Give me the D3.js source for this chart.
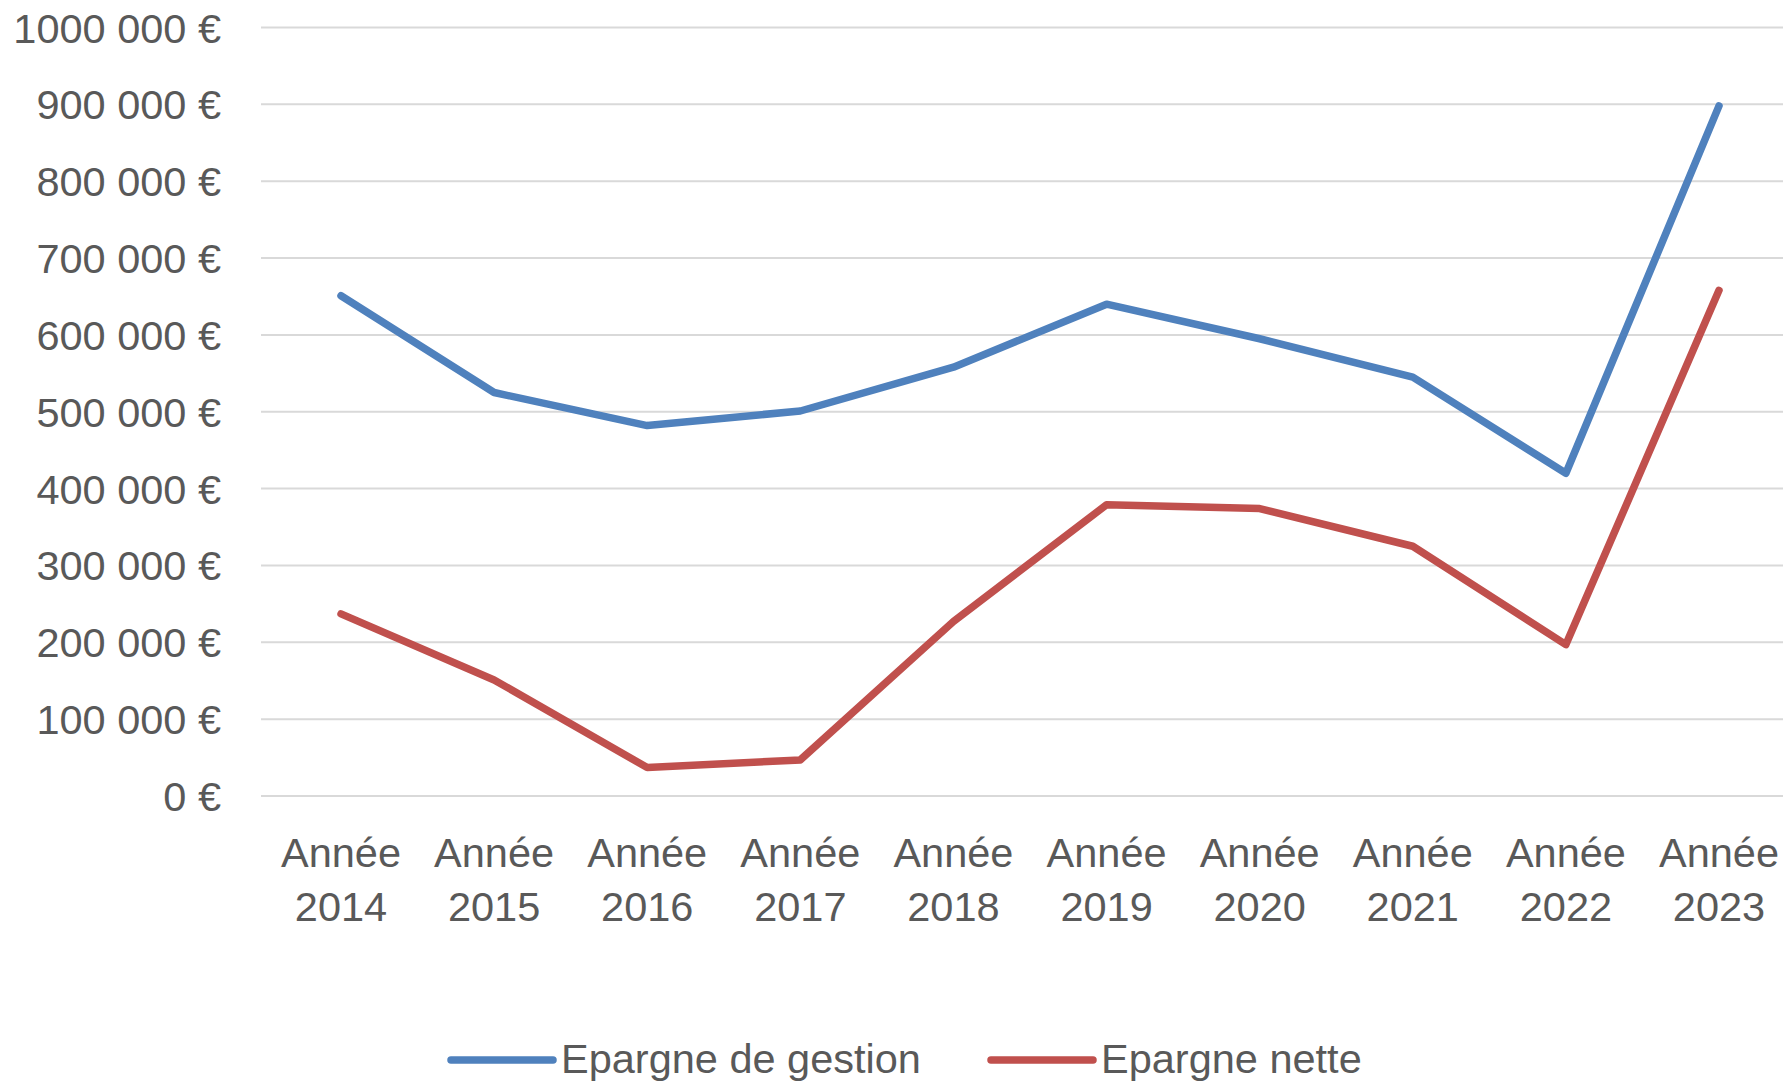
<!DOCTYPE html>
<html><head><meta charset="utf-8">
<script src="https://cdn.jsdelivr.net/npm/d3@7"></script>
<style>
html,body{margin:0;padding:0;background:#fff;}
svg{display:block;}
text{font-family:"Liberation Sans",Arial,sans-serif;fill:#595959;}
</style></head>
<body>
<svg id="chart" width="1783" height="1084"></svg>
<script>
const categories = ["2014","2015","2016","2017","2018","2019","2020","2021","2022","2023"];
const categoryPrefix = "Année";
const epargneGestion = [651000,525000,482000,501000,558000,640000,595000,545000,420000,898000];
const epargneNette   = [237000,151000,37000,47000,227000,379000,374000,325000,197000,658000];
const seriesNames = ["Epargne de gestion","Epargne nette"];
const seriesColors = ["#4F81BD","#C0504D"];
const yTicks = [0,100000,200000,300000,400000,500000,600000,700000,800000,900000,1000000];
const yTickLabels = ["0 €","100 000 €","200 000 €","300 000 €","400 000 €","500 000 €","600 000 €","700 000 €","800 000 €","900 000 €","1000 000 €"];

const svg = d3.select("#chart");
const W = 1783;
const x = d3.scalePoint().domain(categories).range([341, 1719]);
const y = d3.scaleLinear().domain([0,1000000]).range([796, 27.5]);
const fs = 41.5;

// gridlines
svg.append("g").selectAll("line").data(yTicks).join("line")
  .attr("x1", 261).attr("x2", W)
  .attr("y1", d => y(d)).attr("y2", d => y(d))
  .attr("stroke", "#D9D9D9").attr("stroke-width", 2);

// y labels
svg.append("g").selectAll("text").data(yTicks).join("text")
  .attr("x", 221).attr("y", d => y(d) + 15)
  .attr("text-anchor", "end").attr("font-size", fs)
  .text((d,i) => yTickLabels[i]);

// x labels
const xl = svg.append("g").selectAll("g").data(categories).join("g");
xl.append("text").attr("x", d => x(d)).attr("y", 867)
  .attr("text-anchor","middle").attr("font-size", fs).text(categoryPrefix);
xl.append("text").attr("x", d => x(d)).attr("y", 921)
  .attr("text-anchor","middle").attr("font-size", fs).text(d => d);

// lines
const line = d3.line().x((d,i) => x(categories[i])).y(d => y(d));
[epargneGestion, epargneNette].forEach((s, k) => {
  svg.append("path").datum(s).attr("d", line)
    .attr("fill","none").attr("stroke", seriesColors[k])
    .attr("stroke-width", 7.5).attr("stroke-linejoin","round").attr("stroke-linecap","round");
});

// legend
const legendX = [451, 991];
seriesNames.forEach((n, k) => {
  const g = svg.append("g");
  g.append("line").attr("x1", legendX[k]).attr("x2", legendX[k] + 102)
    .attr("y1", 1060).attr("y2", 1060)
    .attr("stroke", seriesColors[k]).attr("stroke-width", 7.5).attr("stroke-linecap","round");
  g.append("text").attr("x", legendX[k] + 110).attr("y", 1073)
    .attr("font-size", fs).text(n);
});
</script>
</body></html>
